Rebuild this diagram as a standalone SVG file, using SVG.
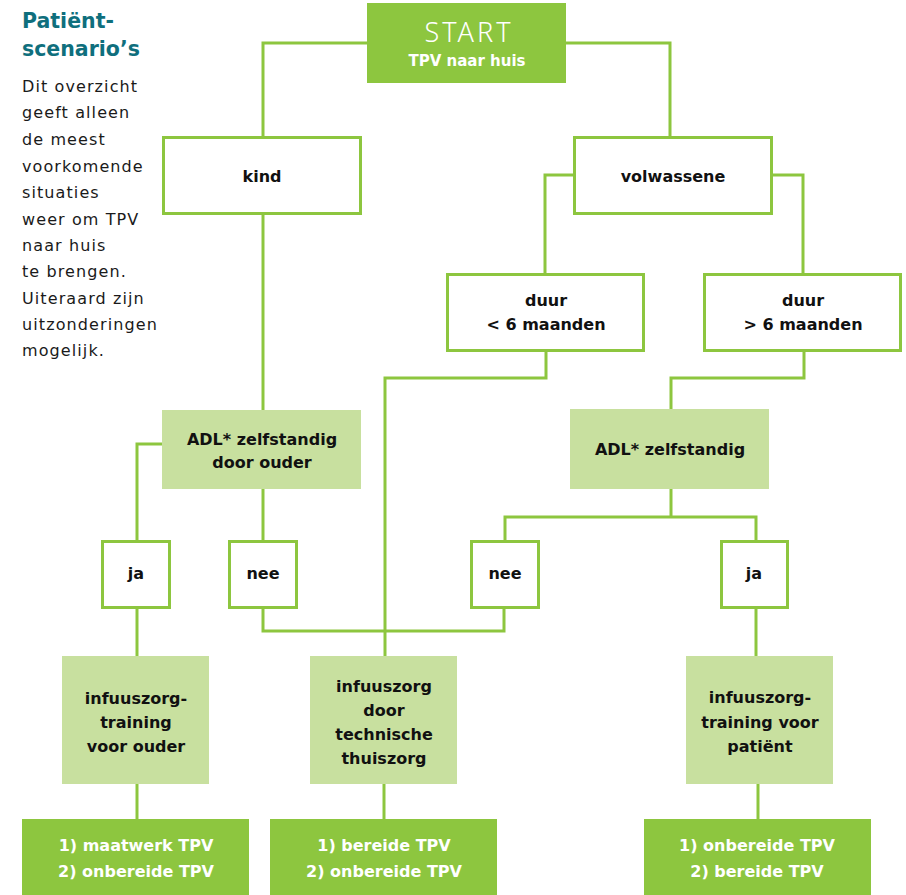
<svg xmlns="http://www.w3.org/2000/svg" width="906" height="895" viewBox="0 0 906 895">
<style>
.w{fill:#fff;stroke:#8dc63f;stroke-width:3}
.l{fill:#c8e09f}
.d{fill:#8dc63f}
.c{fill:none;stroke:#8dc63f;stroke-width:3}
text{font-family:"DejaVu Sans","Liberation Sans",sans-serif}
.t{font-size:16px;font-weight:bold;fill:#111;text-anchor:middle}
.tw{font-size:16px;font-weight:bold;fill:#fff;text-anchor:middle}
.b{font-size:16px;fill:#1a1a1a;letter-spacing:1.1px}
.h{font-size:20.5px;font-weight:bold;fill:#0f6f7d}
</style>
<rect width="906" height="895" fill="#fff"/>
<g id="intro">
<text class="h" x="22" y="28">Patiënt-</text>
<text class="h" x="22" y="56">scenario’s</text>
<text class="b" x="22" y="92">Dit overzicht</text>
<text class="b" x="22" y="118">geeft alleen</text>
<text class="b" x="22" y="145">de meest</text>
<text class="b" x="22" y="172">voorkomende</text>
<text class="b" x="22" y="198">situaties</text>
<text class="b" x="22" y="225">weer om TPV</text>
<text class="b" x="22" y="251">naar huis</text>
<text class="b" x="22" y="277">te brengen.</text>
<text class="b" x="22" y="304">Uiteraard zijn</text>
<text class="b" x="22" y="330">uitzonderingen</text>
<text class="b" x="22" y="356">mogelijk.</text>
</g>
<g id="connectors">
<polyline class="c" points="367,43 263,43 263,137"/>
<polyline class="c" points="566,43 670,43 670,137"/>
<polyline class="c" points="574,175 545,175 545,275"/>
<polyline class="c" points="772,175 803,175 803,275"/>
<polyline class="c" points="546,351 546,378 385,378 385,656"/>
<polyline class="c" points="804,351 804,378 671,378 671,409"/>
<line class="c" x1="263" y1="213" x2="263" y2="410"/>
<polyline class="c" points="162,444 137,444 137,541"/>
<line class="c" x1="263" y1="489" x2="263" y2="541"/>
<polyline class="c" points="263,608 263,631 504,631 504,608"/>
<line class="c" x1="671" y1="489" x2="671" y2="517"/>
<polyline class="c" points="505,541 505,517 756,517 756,541"/>
<line class="c" x1="756" y1="608" x2="756" y2="656"/>
<line class="c" x1="758" y1="784" x2="758" y2="819"/>
<line class="c" x1="137" y1="608" x2="137" y2="656"/>
<line class="c" x1="137" y1="784" x2="137" y2="819"/>
<line class="c" x1="384" y1="784" x2="384" y2="819"/>
</g>
<g id="start">
<rect class="d" x="367" y="3" width="199" height="80"/>
<text x="469" y="42" style="font-family:'Noto Sans','DejaVu Sans',sans-serif;font-size:27px;font-weight:300;fill:#fff;text-anchor:middle;letter-spacing:3px">START</text>
<text class="tw" x="467" y="66" style="font-size:15px">TPV naar huis</text>
</g>
<g id="kind"><rect class="w" x="163.5" y="137.5" width="197" height="76"/><text class="t" x="262" y="182">kind</text></g>
<g id="volwassene"><rect class="w" x="574.5" y="137.5" width="197" height="76"/><text class="t" x="673" y="182">volwassene</text></g>
<g id="duur-kort"><rect class="w" x="447.5" y="274.5" width="196" height="76"/><text class="t" x="546" y="306">duur</text><text class="t" x="546" y="330">&lt; 6 maanden</text></g>
<g id="duur-lang"><rect class="w" x="704.5" y="274.5" width="196" height="76"/><text class="t" x="803" y="306">duur</text><text class="t" x="803" y="330">&gt; 6 maanden</text></g>
<g id="adl-ouder"><rect class="l" x="162" y="410" width="199" height="79"/><text class="t" x="262" y="445">ADL* zelfstandig</text><text class="t" x="262" y="468">door ouder</text></g>
<g id="adl"><rect class="l" x="570" y="409" width="199" height="80"/><text class="t" x="670" y="455">ADL* zelfstandig</text></g>
<g id="ja-kind"><rect class="w" x="102.5" y="541.5" width="67" height="66"/><text class="t" x="136" y="579">ja</text></g>
<g id="nee-kind"><rect class="w" x="229.5" y="541.5" width="67" height="66"/><text class="t" x="263" y="579">nee</text></g>
<g id="nee-volw"><rect class="w" x="471.5" y="541.5" width="67" height="66"/><text class="t" x="505" y="579">nee</text></g>
<g id="ja-volw"><rect class="w" x="721.5" y="541.5" width="66" height="66"/><text class="t" x="754" y="579">ja</text></g>
<g id="training-ouder"><rect class="l" x="62" y="656" width="147" height="128"/><text class="t" x="136" y="704">infuuszorg-</text><text class="t" x="136" y="728">training</text><text class="t" x="136" y="752">voor ouder</text></g>
<g id="thuiszorg"><rect class="l" x="310" y="656" width="147" height="128"/><text class="t" x="384" y="692">infuuszorg</text><text class="t" x="384" y="716">door</text><text class="t" x="384" y="740">technische</text><text class="t" x="384" y="764">thuiszorg</text></g>
<g id="training-patient"><rect class="l" x="686" y="656" width="147" height="128"/><text class="t" x="760" y="703">infuuszorg-</text><text class="t" x="760" y="728">training voor</text><text class="t" x="760" y="752">patiënt</text></g>
<g id="uitkomst-1"><rect class="d" x="22" y="819" width="227" height="76"/><text class="tw" x="136" y="851">1) maatwerk TPV</text><text class="tw" x="136" y="877">2) onbereide TPV</text></g>
<g id="uitkomst-2"><rect class="d" x="270" y="819" width="227" height="76"/><text class="tw" x="384" y="851">1) bereide TPV</text><text class="tw" x="384" y="877">2) onbereide TPV</text></g>
<g id="uitkomst-3"><rect class="d" x="644" y="819" width="227" height="76"/><text class="tw" x="757" y="851">1) onbereide TPV</text><text class="tw" x="757" y="877">2) bereide TPV</text></g>
</svg>
